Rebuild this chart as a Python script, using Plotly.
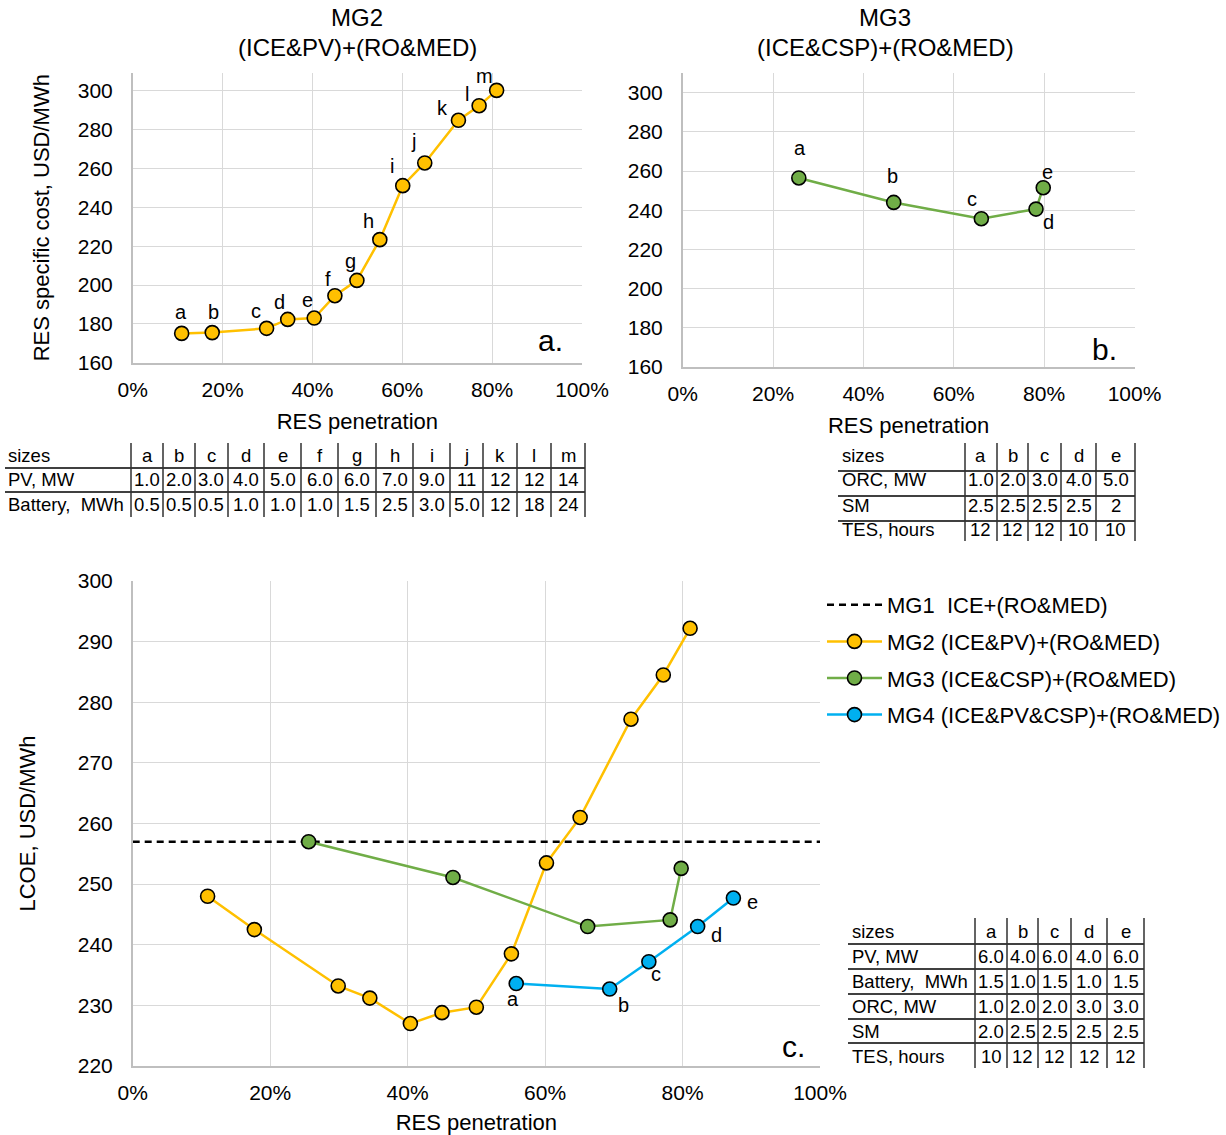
import plotly.graph_objects as go

W, H = 1226, 1135
FONT = "Liberation Sans, Arial, sans-serif"

# ---------------- data ----------------
pts_mg2 = list("abcdefghijklm")
pts_5 = list("abcde")

# panel a: RES specific cost, MG2
a_pen = [10.9, 17.7, 29.8, 34.5, 40.4, 45.0, 49.9, 55.0, 60.1, 65.0, 72.5, 77.1, 81.0]
a_cost = [175.1, 175.5, 177.7, 182.3, 183.0, 194.5, 202.4, 223.4, 251.2, 262.9, 284.9, 292.4, 300.3]

# panel b: RES specific cost, MG3
b_pen = [25.7, 46.7, 66.1, 78.2, 79.8]
b_cost = [256.5, 244.0, 235.7, 240.6, 251.5]

# panel c: LCOE
mg1_lcoe = 257.0
mg2_pen = [10.9, 17.7, 29.9, 34.5, 40.4, 45.0, 50.0, 55.1, 60.2, 65.1, 72.5, 77.2, 81.1]
mg2_lcoe = [248.0, 242.5, 233.2, 231.2, 227.0, 228.8, 229.7, 238.5, 253.5, 261.0, 277.2, 284.5, 292.2]
mg3_pen = [25.6, 46.6, 66.2, 78.2, 79.8]
mg3_lcoe = [257.0, 251.1, 243.0, 244.1, 252.6]
mg4_pen = [55.8, 69.4, 75.1, 82.2, 87.4]
mg4_lcoe = [233.6, 232.7, 237.2, 243.0, 247.7]

x_ticks = [0, 20, 40, 60, 80, 100]
x_tick_text = ["0%", "20%", "40%", "60%", "80%", "100%"]

# size tables
t1_header = ["sizes"] + pts_mg2
t1_rows = [
    ["PV, MW", "1.0", "2.0", "3.0", "4.0", "5.0", "6.0", "6.0", "7.0", "9.0", "11", "12", "12", "14"],
    ["Battery,\u00a0 MWh", "0.5", "0.5", "0.5", "1.0", "1.0", "1.0", "1.5", "2.5", "3.0", "5.0", "12", "18", "24"],
]
t2_header = ["sizes"] + pts_5
t2_rows = [
    ["ORC, MW", "1.0", "2.0", "3.0", "4.0", "5.0"],
    ["SM", "2.5", "2.5", "2.5", "2.5", "2"],
    ["TES, hours", "12", "12", "12", "10", "10"],
]
t3_header = ["sizes"] + pts_5
t3_rows = [
    ["PV, MW", "6.0", "4.0", "6.0", "4.0", "6.0"],
    ["Battery,\u00a0 MWh", "1.5", "1.0", "1.5", "1.0", "1.5"],
    ["ORC, MW", "1.0", "2.0", "2.0", "3.0", "3.0"],
    ["SM", "2.0", "2.5", "2.5", "2.5", "2.5"],
    ["TES, hours", "10", "12", "12", "12", "12"],
]

# ---------------- styles ----------------
GOLD, GREEN, BLUE = "#FFC000", "#70AD47", "#00B0F0"
GRID, AXLINE = "#d9d9d9", "#bfbfbf"
MSIZE = 14


def px(x):
    return x / W


def py(y):
    return 1 - y / H


fig = go.Figure()


def series(x, y, color, name, xa, ya, showlegend, group):
    fig.add_trace(go.Scatter(
        x=x, y=y, mode="lines+markers", name=name,
        line=dict(color=color, width=2.5),
        marker=dict(size=MSIZE, color=color, line=dict(color="black", width=1.6)),
        xaxis=xa, yaxis=ya, showlegend=showlegend, legendgroup=group,
    ))


series(a_pen, a_cost, GOLD, "MG2", "x", "y", False, "a")
series(b_pen, b_cost, GREEN, "MG3", "x2", "y2", False, "b")

fig.add_trace(go.Scatter(
    x=[0, 100], y=[mg1_lcoe, mg1_lcoe], mode="lines",
    name="MG1\u00a0 ICE+(RO&MED)",
    line=dict(color="black", width=2.5, dash="7px,5px"),
    xaxis="x3", yaxis="y3", legendgroup="g1",
))
series(mg2_pen, mg2_lcoe, GOLD, "MG2 (ICE&PV)+(RO&MED)", "x3", "y3", True, "g2")
series(mg3_pen, mg3_lcoe, GREEN, "MG3 (ICE&CSP)+(RO&MED)", "x3", "y3", True, "g3")
series(mg4_pen, mg4_lcoe, BLUE, "MG4 (ICE&PV&CSP)+(RO&MED)", "x3", "y3", True, "g4")

annotations = []
shapes = []

# point labels (pixel offsets from each point)
a_off = [(-1, 21), (1, 21), (-11, 17), (-8, 17), (-7, 18), (-7, 17), (-6, 19),
         (-11, 19), (-11, 20), (-11, 22), (-16, 12), (-12, 12), (-12, 14)]
b_off = [(1, 30), (-1, 26), (-9, 20), (12, -13), (4, 16)]
c_off = [(-3, -15), (14, -16), (7, -12), (19, -8), (19, -4)]


def labels(xs, ys, letters, offs, xr, yr):
    for xv, yv, t, (dx, dy) in zip(xs, ys, letters, offs):
        annotations.append(dict(x=xv, y=yv, xref=xr, yref=yr, text=t, showarrow=False,
                                xshift=dx, yshift=dy, font=dict(size=20, color="black")))


labels(a_pen, a_cost, pts_mg2, a_off, "x", "y")
labels(b_pen, b_cost, pts_5, b_off, "x2", "y2")
labels(mg4_pen, mg4_lcoe, pts_5, c_off, "x3", "y3")

# panel letters
for t, xr, yr, xx, yy in [("a.", "x", "y", 0.931, 0.078), ("b.", "x2", "y2", 0.9325, 0.061),
                          ("c.", "x3", "y3", 0.961, 0.041)]:
    annotations.append(dict(x=xx, y=yy, xref=xr + " domain", yref=yr + " domain", text=t,
                            showarrow=False, xanchor="center", yanchor="middle",
                            font=dict(size=30, color="black")))

# titles
for txt, tx, ty in [("MG2", 357, 18), ("(ICE&PV)+(RO&MED)", 357, 47),
                    ("MG3", 885, 18), ("(ICE&CSP)+(RO&MED)", 885, 47)]:
    annotations.append(dict(x=px(tx), y=py(ty), xref="paper", yref="paper", xanchor="center",
                            yanchor="middle", text=txt, showarrow=False,
                            font=dict(size=24, color="black")))


def table(header, rows, label_x, bounds, row_ys, hline_ys, left, vtop, vbot):
    allrows = [header] + rows
    for r, ry in zip(allrows, row_ys):
        annotations.append(dict(x=px(label_x), y=py(ry), xref="paper", yref="paper", text=r[0],
                                xanchor="left", yanchor="middle", showarrow=False,
                                font=dict(size=18.5, color="black")))
        for i, v in enumerate(r[1:]):
            cx = (bounds[i] + bounds[i + 1]) / 2
            annotations.append(dict(x=px(cx), y=py(ry), xref="paper", yref="paper", text=v,
                                    xanchor="center", yanchor="middle", showarrow=False,
                                    font=dict(size=18.5, color="black")))
    for hy in hline_ys:
        shapes.append(dict(type="line", xref="paper", yref="paper", x0=px(left), x1=px(bounds[-1]),
                           y0=py(hy), y1=py(hy), line=dict(color="#404040", width=2)))
    for bx in bounds:
        shapes.append(dict(type="line", xref="paper", yref="paper", x0=px(bx), x1=px(bx),
                           y0=py(vtop), y1=py(vbot), line=dict(color="#303030", width=1.5)))


table(t1_header, t1_rows, 6,
      [131, 163, 195, 228, 264, 301, 338, 376, 413, 450, 483, 517, 551, 585],
      [455, 479, 504], [468, 492], 5, 443, 517)
table(t2_header, t2_rows, 840,
      [965, 997, 1028, 1061, 1096, 1135],
      [455, 480, 505, 529], [471, 496, 521], 838, 443, 541)
table(t3_header, t3_rows, 850,
      [975, 1007, 1038, 1071, 1107, 1144],
      [931, 956, 981, 1006, 1031, 1056], [944, 969, 994, 1019, 1043], 848, 918, 1068)


def xaxis(domain, anchor, title):
    return dict(domain=domain, anchor=anchor, range=[0, 100], tickvals=x_ticks, ticktext=x_tick_text,
                showgrid=True, gridcolor=GRID, gridwidth=1, showline=True, linecolor=AXLINE,
                linewidth=1.5, zeroline=False, ticks="", ticklabelstandoff=7,
                tickfont=dict(size=21, color="black"),
                title=dict(text=title, font=dict(size=22, color="black"), standoff=14))


def yaxis(domain, anchor, rng, tv, title, standoff):
    return dict(domain=domain, anchor=anchor, range=rng, tickvals=tv,
                showgrid=True, gridcolor=GRID, gridwidth=1, showline=True, linecolor=AXLINE,
                linewidth=1.5, zeroline=False, ticks="", ticklabelstandoff=14,
                tickfont=dict(size=21, color="black"),
                title=dict(text=title, font=dict(size=22, color="black"), standoff=standoff))


fig.update_layout(
    width=W, height=H, margin=dict(l=0, r=0, t=0, b=0, autoexpand=False),
    paper_bgcolor="white", plot_bgcolor="white",
    font=dict(family=FONT, color="black"),
    xaxis=xaxis([px(132.7), px(582)], "y", "RES penetration"),
    yaxis=yaxis([py(362.7), py(72.7)], "x", [160, 309.4], list(range(160, 301, 20)),
                "RES specific cost, USD/MWh", 22),
    xaxis2=xaxis([px(682.7), px(1134.5)], "y2", "RES penetration"),
    yaxis2=yaxis([py(367), py(73.3)], "x2", [160, 309.9], list(range(160, 301, 20)), "", 0),
    xaxis3=xaxis([px(132.7), px(820)], "y3", "RES penetration"),
    yaxis3=yaxis([py(1066), py(581)], "x3", [220, 300], list(range(220, 301, 10)),
                 "LCOE, USD/MWh", 36),
    legend=dict(x=px(822), y=py(584), xanchor="left", yanchor="top",
                font=dict(size=22, color="black"), tracegroupgap=5,
                bgcolor="rgba(0,0,0,0)", itemwidth=55),
    annotations=annotations, shapes=shapes,
)

fig.write_html("out.html")
